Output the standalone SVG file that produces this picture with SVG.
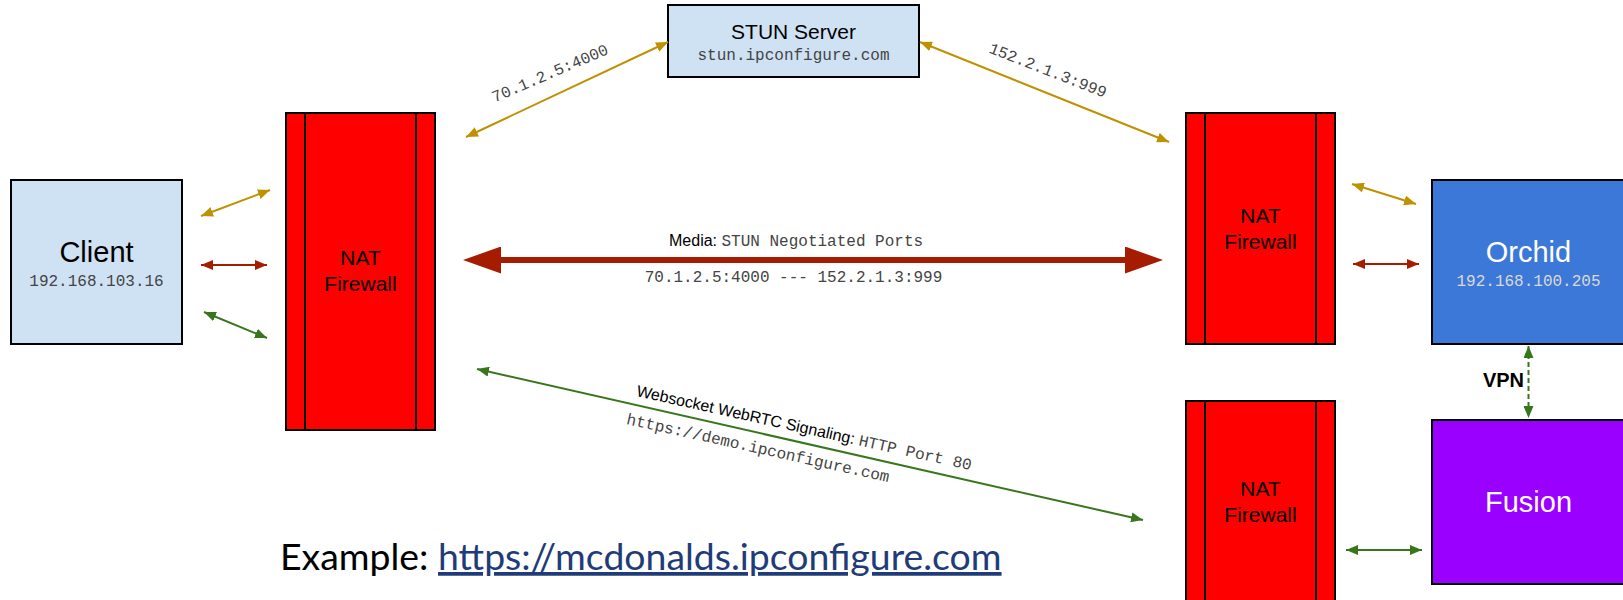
<svg xmlns="http://www.w3.org/2000/svg" width="1623" height="600" viewBox="0 0 1623 600">
<style>
.box{stroke:#000;stroke-width:2}
.light{fill:#cfe2f3}
.nat{fill:#ff0000}
.inner{stroke:#000;stroke-width:2}
.sans{font-family:"Liberation Sans",Arial,sans-serif}
.mono{font-family:"Liberation Mono","Courier New",monospace;font-size:16px;fill:#444}
.title{font-size:29px;text-anchor:middle}
.natlabel{font-size:21px;text-anchor:middle;fill:#000}
.gold{stroke:#bf9000;stroke-width:2;fill:none;marker-start:url(#hg);marker-end:url(#hg)}
.red{stroke:#a61c00;stroke-width:2;fill:none;marker-start:url(#hr);marker-end:url(#hr)}
.green{stroke:#38761d;stroke-width:2;fill:none;marker-start:url(#hgr);marker-end:url(#hgr)}
</style>
<defs>
<marker id="hg" viewBox="0 0 12 10" refX="12" refY="5" markerWidth="12" markerHeight="10" markerUnits="userSpaceOnUse" orient="auto-start-reverse"><path d="M0,0 L12,5 L0,10 z" fill="#bf9000"/></marker>
<marker id="hr" viewBox="0 0 12 10" refX="12" refY="5" markerWidth="12" markerHeight="10" markerUnits="userSpaceOnUse" orient="auto-start-reverse"><path d="M0,0 L12,5 L0,10 z" fill="#a61c00"/></marker>
<marker id="hgr" viewBox="0 0 12 10" refX="12" refY="5" markerWidth="12" markerHeight="10" markerUnits="userSpaceOnUse" orient="auto-start-reverse"><path d="M0,0 L12,5 L0,10 z" fill="#38761d"/></marker>
<marker id="hbig" viewBox="0 0 38 27" refX="0" refY="13.5" markerWidth="38" markerHeight="27" markerUnits="userSpaceOnUse" orient="auto-start-reverse"><path d="M0,0 L38,13.5 L0,27 z" fill="#a61c00"/></marker>
</defs>
<rect width="1623" height="600" fill="#fff"/>

<g id="stun">
<rect class="box light" x="668" y="5" width="251" height="72"/>
<text class="sans" x="793.5" y="39" font-size="21" text-anchor="middle">STUN Server</text>
<text class="mono" x="793.5" y="60" text-anchor="middle">stun.ipconfigure.com</text>
</g>

<g id="client">
<rect class="box light" x="11" y="180" width="171" height="164"/>
<text class="sans title" x="96.5" y="262">Client</text>
<text class="mono" x="96.5" y="286" text-anchor="middle">192.168.103.16</text>
</g>

<g id="nat-left">
<rect class="box nat" x="286" y="113" width="149" height="317"/>
<line class="inner" x1="305" y1="113" x2="305" y2="430"/>
<line class="inner" x1="416" y1="113" x2="416" y2="430"/>
<text class="sans natlabel" x="360.5" y="265">NAT</text>
<text class="sans natlabel" x="360.5" y="291">Firewall</text>
</g>

<g id="nat-right-top">
<rect class="box nat" x="1186" y="113" width="149" height="231"/>
<line class="inner" x1="1205" y1="113" x2="1205" y2="344"/>
<line class="inner" x1="1316" y1="113" x2="1316" y2="344"/>
<text class="sans natlabel" x="1260.5" y="223">NAT</text>
<text class="sans natlabel" x="1260.5" y="249">Firewall</text>
</g>

<g id="nat-right-bottom">
<rect class="box nat" x="1186" y="401" width="149" height="215"/>
<line class="inner" x1="1205" y1="401" x2="1205" y2="616"/>
<line class="inner" x1="1316" y1="401" x2="1316" y2="616"/>
<text class="sans natlabel" x="1260.5" y="496">NAT</text>
<text class="sans natlabel" x="1260.5" y="522">Firewall</text>
</g>

<g id="orchid">
<rect class="box" x="1432" y="180" width="194" height="164" fill="#3c78d8"/>
<text class="sans title" x="1528.5" y="262" fill="#fff">Orchid</text>
<text class="mono" x="1528.5" y="286" text-anchor="middle" style="fill:#d9d9d9">192.168.100.205</text>
</g>

<g id="fusion">
<rect class="box" x="1432" y="420" width="194" height="164" fill="#9900ff"/>
<text class="sans title" x="1528.5" y="512" fill="#fff">Fusion</text>
</g>

<g id="connectors">
<line class="gold" x1="466" y1="137" x2="668" y2="42"/>
<text class="mono" transform="translate(552,78) rotate(-23)" text-anchor="middle">70.1.2.5:4000</text>
<line class="gold" x1="920" y1="42" x2="1169" y2="142"/>
<text class="mono" transform="translate(1046,75) rotate(21.5)" text-anchor="middle">152.2.1.3:999</text>

<line class="gold" x1="201" y1="216" x2="270" y2="190"/>
<line class="red" x1="201" y1="265" x2="267" y2="265"/>
<line class="green" x1="204" y1="312" x2="267" y2="338"/>

<line x1="501" y1="260" x2="1125" y2="260" stroke="#a61c00" stroke-width="6" marker-start="url(#hbig)" marker-end="url(#hbig)"/>
<text x="669" y="246" font-size="16"><tspan class="sans" fill="#000">Media: </tspan><tspan class="mono">STUN Negotiated Ports</tspan></text>
<text class="mono" x="793.5" y="282" text-anchor="middle">70.1.2.5:4000 --- 152.2.1.3:999</text>

<line class="green" x1="477" y1="369" x2="1143" y2="520"/>
<text transform="translate(803,433) rotate(12.5)" text-anchor="middle" font-size="16"><tspan class="sans" fill="#000">Websocket WebRTC Signaling: </tspan><tspan class="mono">HTTP Port 80</tspan></text>
<text class="mono" transform="translate(757,453) rotate(12.5)" text-anchor="middle">https://demo.ipconfigure.com</text>

<line class="gold" x1="1352" y1="184" x2="1416" y2="204"/>
<line class="red" x1="1353" y1="264" x2="1419" y2="264"/>
<line class="green" x1="1346" y1="550" x2="1422" y2="550"/>

<line x1="1528.5" y1="346" x2="1528.5" y2="418" stroke="#38761d" stroke-width="2" stroke-dasharray="5 3" marker-start="url(#hgr)" marker-end="url(#hgr)"/>
<text class="sans" x="1524" y="387" font-size="20" font-weight="bold" text-anchor="end">VPN</text>
</g>

<text x="280" y="570" font-family="Lato,sans-serif" font-size="37.4" fill="#000">Example: <tspan fill="#1f3c78" text-decoration="underline">https://mcdonalds.ipconfigure.com</tspan></text>
</svg>
